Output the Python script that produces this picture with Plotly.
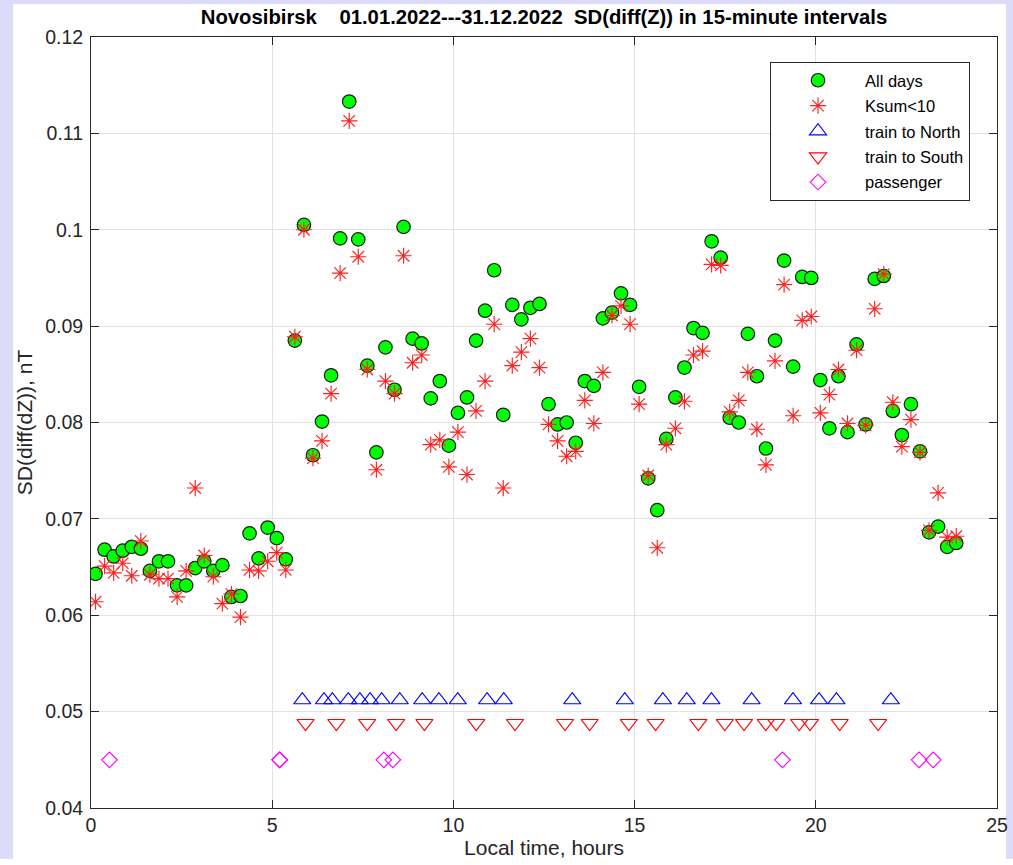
import plotly.graph_objects as go

# ---------------- data ----------------
hours = [(i + 0.5) * 0.25 for i in range(96)]  # centres of 15-minute intervals

all_days = [
    0.0643, 0.0668, 0.0661, 0.0667, 0.0671, 0.0669, 0.0646, 0.0656, 0.0656, 0.0631,
    0.0631, 0.0649, 0.0656, 0.0646, 0.0652, 0.0619, 0.0620, 0.0685, 0.0659, 0.0691,
    0.0680, 0.0658, 0.0885, 0.1005, 0.0766, 0.0801, 0.0849, 0.0991, 0.1133, 0.0990,
    0.0859, 0.0769, 0.0878, 0.0834, 0.1003, 0.0887, 0.0882, 0.0825, 0.0843, 0.0776,
    0.0810, 0.0826, 0.0885, 0.0916, 0.0958, 0.0808, 0.0922, 0.0907, 0.0919, 0.0923,
    0.0819, 0.0798, 0.0800, 0.0779, 0.0843, 0.0838, 0.0908, 0.0914, 0.0934, 0.0922,
    0.0837, 0.0742, 0.0709, 0.0783, 0.0826, 0.0857, 0.0898, 0.0893, 0.0988, 0.0971,
    0.0805, 0.0800, 0.0892, 0.0848, 0.0773, 0.0885, 0.0968, 0.0858, 0.0951, 0.0950,
    0.0844, 0.0794, 0.0848, 0.0790, 0.0881, 0.0798, 0.0949, 0.0952, 0.0812, 0.0787,
    0.0819, 0.0770, 0.0686, 0.0692, 0.0671, 0.0675,
]

ksum_lt10 = [
    0.0614, 0.0651, 0.0644, 0.0654, 0.0641, 0.0677, 0.0642, 0.0638, 0.0638, 0.0619,
    0.0646, 0.0732, 0.0662, 0.0640, 0.0612, 0.0622, 0.0598, 0.0647, 0.0646, 0.0656,
    0.0665, 0.0647, 0.0889, 0.1000, 0.0763, 0.0781, 0.0830, 0.0955, 0.1113, 0.0972,
    0.0855, 0.0751, 0.0843, 0.0830, 0.0973, 0.0862, 0.0870, 0.0777, 0.0782, 0.0754,
    0.0790, 0.0746, 0.0812, 0.0843, 0.0902, 0.0732, 0.0859, 0.0873, 0.0887, 0.0857,
    0.0798, 0.0781, 0.0765, 0.0770, 0.0823, 0.0799, 0.0852, 0.0911, 0.0921, 0.0902,
    0.0819, 0.0745, 0.0670, 0.0777, 0.0794, 0.0822, 0.0870, 0.0874, 0.0964, 0.0963,
    0.0811, 0.0823, 0.0852, 0.0793, 0.0756, 0.0864, 0.0943, 0.0807, 0.0906, 0.0910,
    0.0810, 0.0829, 0.0855, 0.0799, 0.0875, 0.0797, 0.0918, 0.0954, 0.0821, 0.0775,
    0.0803, 0.0769, 0.0688, 0.0727, 0.0681, 0.0682,
]

train_north_times = [5.83, 6.43, 6.66, 7.10, 7.42, 7.70, 8.02, 8.52, 9.14, 9.60,
                     10.12, 10.93, 11.39, 13.28, 14.73, 15.78, 16.44, 17.12, 18.23,
                     19.37, 20.09, 20.57, 22.07]
train_north_level = 0.0512

train_south_times = [5.92, 6.77, 7.62, 8.42, 9.20, 10.63, 11.70, 13.08, 13.76, 14.84,
                     15.58, 16.76, 17.49, 18.02, 18.62, 18.91, 19.54, 19.84, 20.66,
                     21.72]
train_south_level = 0.0488

passenger_times = [0.51, 5.20, 5.21, 8.08, 8.33, 19.08, 22.85, 23.24]
passenger_level = 0.0450

x_ticks = [0, 5, 10, 15, 20, 25]
x_tick_labels = ["0", "5", "10", "15", "20", "25"]
y_ticks = [0.04, 0.05, 0.06, 0.07, 0.08, 0.09, 0.10, 0.11, 0.12]
y_tick_labels = ["0.04", "0.05", "0.06", "0.07", "0.08", "0.09", "0.1", "0.11", "0.12"]

title_text = ("Novosibirsk\u00a0\u00a0\u00a0\u00a001.01.2022---31.12.2022\u00a0\u00a0"
              "SD(diff(Z)) in 15-minute intervals")

# ---------------- figure ----------------
FONT = "Liberation Sans, Arial, Helvetica, sans-serif"
AX = "#262626"

fig = go.Figure()

fig.add_trace(go.Scatter(
    x=hours, y=all_days, mode="markers", name="All days", legendgroup="a",
    marker=dict(symbol="circle", size=13.5, color="#00ff00",
                line=dict(color="#1a1a1a", width=1.2)),
))
fig.add_trace(go.Scatter(
    x=hours, y=ksum_lt10, mode="markers", name="Ksum<10", legendgroup="b",
    marker=dict(symbol="asterisk-open", size=13.5, color="#ff2020",
                line=dict(color="#ff2020", width=1.15)),
))
fig.add_trace(go.Scatter(
    x=train_north_times, y=[train_north_level] * len(train_north_times),
    mode="markers", name="train to North", legendgroup="c",
    marker=dict(symbol="triangle-up-open", size=15, color="#0000ff",
                line=dict(color="#0000ff", width=1.1)),
))
fig.add_trace(go.Scatter(
    x=train_south_times, y=[train_south_level] * len(train_south_times),
    mode="markers", name="train to South", legendgroup="d",
    marker=dict(symbol="triangle-down-open", size=15, color="#ff0000",
                line=dict(color="#ff0000", width=1.1)),
))
fig.add_trace(go.Scatter(
    x=passenger_times, y=[passenger_level] * len(passenger_times),
    mode="markers", name="passenger", legendgroup="e",
    marker=dict(symbol="diamond-open", size=12, color="#ff00ff",
                line=dict(color="#ff00ff", width=1.1)),
))

W, H = 1013, 859
ML, MR, MT = 91, 16, 37
MB = H - 808
pw, ph = W - ML - MR, H - MT - MB


def px_x(p):
    return (p - ML) / pw


def px_y(p):
    return (H - MB - p) / ph


fig.add_shape(type="rect", xref="paper", yref="paper",
              x0=px_x(13), x1=px_x(1006), y0=px_y(880), y1=px_y(4),
              fillcolor="white", line=dict(width=0), layer="below")

axis_common = dict(
    showline=True, linecolor=AX, linewidth=1, mirror="ticks",
    ticks="inside", ticklen=8, tickwidth=1, tickcolor=AX,
    showgrid=True, gridcolor="#e2e2e2", gridwidth=1, zeroline=False,
    automargin=False,
    tickfont=dict(family=FONT, size=19.5, color=AX),
)

fig.update_layout(
    width=W, height=H, autosize=False,
    margin=dict(l=ML, r=MR, t=MT, b=MB, pad=0),
    paper_bgcolor="#dcdcfa", plot_bgcolor="white",
    font=dict(family=FONT, color=AX),
    title=dict(text=title_text, x=0.5, xref="paper", xanchor="center",
               y=1 - 17 / H, yref="container", yanchor="middle",
               font=dict(family=FONT, size=20.3, color="black", weight="bold")),
    xaxis=dict(range=[0, 25], tickvals=x_ticks, ticktext=x_tick_labels,
               title=dict(text="Local time, hours", standoff=13,
                          font=dict(family=FONT, size=21, color=AX)),
               **axis_common),
    yaxis=dict(range=[0.04, 0.12], tickvals=y_ticks, ticktext=y_tick_labels,
               ticklabelstandoff=3,
               title=dict(text="SD(diff(dZ)), nT", standoff=6,
                          font=dict(family=FONT, size=21, color=AX)),
               **axis_common),
    showlegend=True,
    legend=dict(x=px_x(770), y=px_y(62), xanchor="left", yanchor="top",
                bgcolor="white", bordercolor=AX, borderwidth=1,
                font=dict(family=FONT, size=16.5, color="black"),
                itemwidth=84, traceorder="grouped", tracegroupgap=1),
)

fig.write_html("out.html")
